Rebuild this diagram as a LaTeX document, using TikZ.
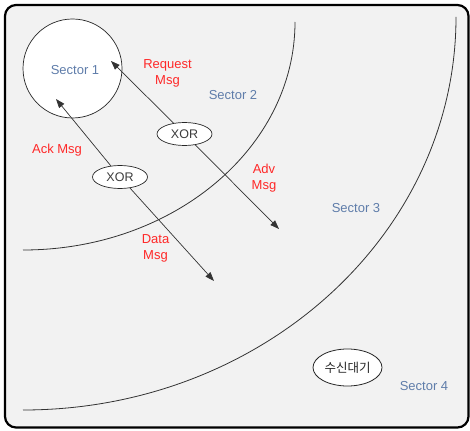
\documentclass[tikz,border=0pt]{standalone}
\usepackage{fontspec}
\setmainfont{Liberation Sans}
\newfontfamily\krfont{Noto Sans CJK KR}
\usetikzlibrary{shapes.geometric,arrows.meta}
\definecolor{bgframe}{RGB}{242,242,242}
\definecolor{msgred}{RGB}{255,40,40}
\definecolor{secblue}{RGB}{95,125,170}
\definecolor{txtgray}{RGB}{60,60,60}
\tikzset{
  boundary/.style={draw=black!80, line width=0.8pt},
  arr/.style={draw=black!80, line width=0.7pt, -{Triangle[length=9pt,width=6.5pt]}},
  xorbox/.style={ellipse, draw=black!85, line width=0.7pt, fill=white, inner sep=0pt, minimum width=55pt, minimum height=23pt, text=txtgray, font=\fontsize{12.5}{14}\selectfont},
  seclabel/.style={text=secblue, font=\fontsize{13}{15}\selectfont, inner sep=0pt},
  msglabel/.style={text=msgred, font=\fontsize{13}{16}\selectfont, align=center, inner sep=0pt}
}
\begin{document}
\begin{tikzpicture}[x=1pt,y=-1pt]
\useasboundingbox (0,0) rectangle (470,430);
% frame
\draw[line width=2.2pt, fill=bgframe, rounded corners=11pt] (5,5) rectangle (468.5,427.5);
% sector boundaries
\draw[boundary] (295,22) arc[start angle=0, end angle=90, x radius=272, y radius=228];
\draw[boundary] (456,17) arc[start angle=0, end angle=90, x radius=433, y radius=393];
% sector 1 circle
\node[circle, draw=black!85, line width=0.7pt, fill=white, minimum size=99pt, inner sep=0pt] (s1) at (72.5,68.5) {};
\node[seclabel] (l1) at (75,70) {Sector 1};
\node[seclabel] (l2) at (233,95) {Sector 2};
\node[seclabel] (l3) at (356,208) {Sector 3};
\node[seclabel] (l4) at (424,386) {Sector 4};
% XOR nodes
\node[xorbox] (x1) at (184.5,134) {XOR};
\node[xorbox] (x2) at (120,177) {XOR};
\node[ellipse, draw=black!85, line width=0.8pt, fill=white, inner sep=0pt, minimum width=69pt, minimum height=37pt, font=\krfont\fontsize{12.5}{14}\selectfont, text=black!85] (wait) at (347.5,367.5) {수신대기};
% arrow ends
\coordinate (t1) at (111,61);
\coordinate (b1) at (279,229);
\coordinate (t2) at (56,99);
\coordinate (b2) at (214,281);
\draw[arr] (x1) -- (t1);
\draw[arr] (x1) -- (b1);
\draw[arr] (x2) -- (t2);
\draw[arr] (x2) -- (b2);
% message labels
\node[msglabel] (m1) at (167.5,73) {Request\\Msg};
\node[msglabel] (m2) at (57,150) {Ack Msg};
\node[msglabel] (m3) at (264,178) {Adv\\Msg};
\node[msglabel] (m4) at (155.5,248) {Data\\Msg};
\end{tikzpicture}
\end{document}
